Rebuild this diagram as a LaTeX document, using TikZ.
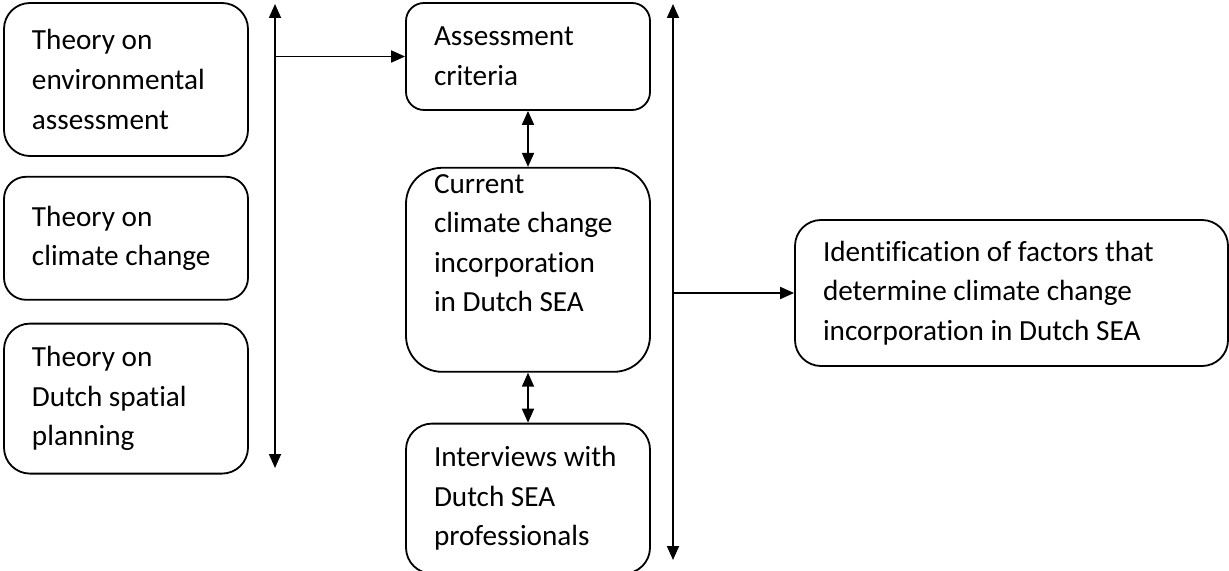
\documentclass[tikz,border=0pt]{standalone}
\usepackage{fontspec}
\setmainfont{Carlito}[Ligatures=NoCommon]
\usetikzlibrary{arrows.meta,positioning}
\tikzset{
stagebox/.style={rectangle,rounded corners=13pt,draw=black,line width=0.9pt,
  minimum width=122pt,text width=94pt,inner xsep=14pt,inner ysep=3pt,align=flush left,
  font=\fontsize{14.6pt}{19.8pt}\selectfont},
stagearr/.style={line width=0.9pt,-{Triangle[length=7pt,width=6pt]}},
stagedbl/.style={line width=0.9pt,{Triangle[length=7pt,width=6pt]}-{Triangle[length=7pt,width=6pt]}}
}
\begin{document}
\begin{tikzpicture}[x=0.5pt,y=-0.5pt]
\useasboundingbox (0,0) rectangle (1229,571);
% theory column
\node[stagebox,minimum height=76.5pt] (envth) at (126,79.5) {Theory on\\environmental\\assessment};
\node[stagebox,minimum height=61.5pt,rounded corners=11pt,below=9.5pt of envth] (climth) {Theory on\\climate change};
\node[stagebox,minimum height=75pt,below=11pt of climth] (planth) {Theory on\\Dutch spatial\\planning};
% analysis column
\node[stagebox,minimum height=53.5pt,rounded corners=9pt] (crit) at (528,56.5) {Assessment\\criteria};
\node[stagebox,minimum height=102pt,rounded corners=18pt,below=28pt of crit] (curr) {Current\\climate change\\incorporation\\in Dutch SEA\\[7pt]\mbox{}};
\node[stagebox,minimum height=75pt,below=25pt of curr] (interv) {Interviews with\\Dutch SEA\\professionals};
% result
\node[stagebox,minimum width=216.5pt,text width=188.5pt,minimum height=73pt] (factors) at (1011.5,293) {Identification of factors that\\determine climate change\\incorporation in Dutch SEA};
\coordinate (ltop) at (275,4);
\coordinate (lbot) at (275,468);
\coordinate (rtop) at (673,4);
\coordinate (rbot) at (673,560);
\draw[stagedbl] (ltop) -- (lbot);
\draw[stagedbl] (rtop) -- (rbot);
\draw[stagearr] (ltop |- crit.west) -- (crit.west);
\draw[stagearr] (rtop |- factors.west) -- (factors.west);
\draw[stagedbl] (crit.south) -- (curr.north);
\draw[stagedbl] (curr.south) -- (interv.north);
\end{tikzpicture}
\end{document}
